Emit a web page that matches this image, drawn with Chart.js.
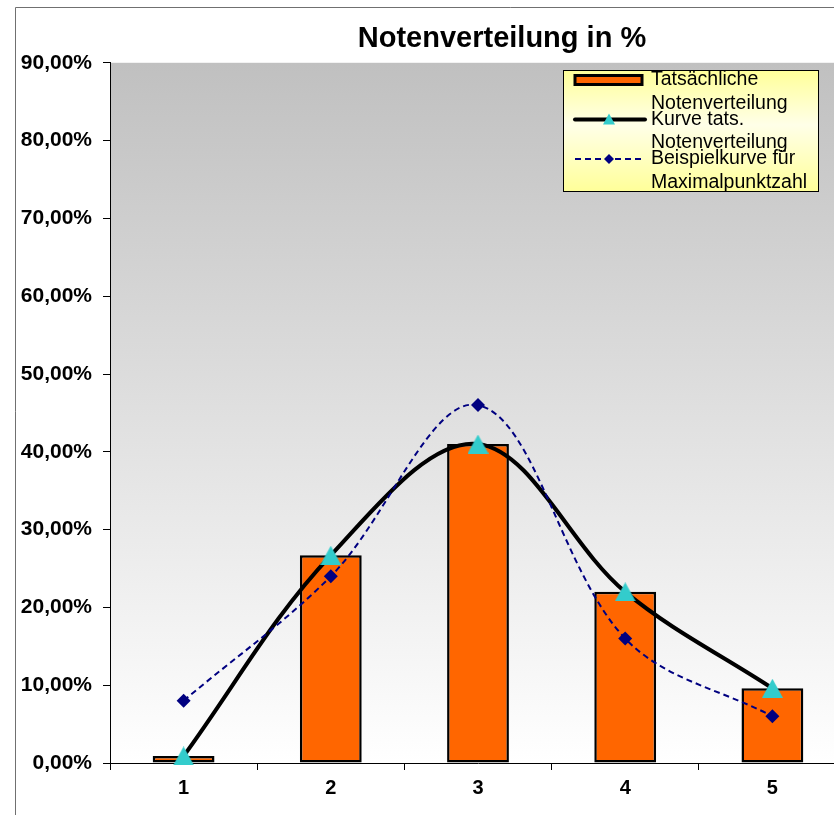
<!DOCTYPE html>
<html>
<head>
<meta charset="utf-8">
<script src="https://cdn.jsdelivr.net/npm/chart.js@4/dist/chart.umd.min.js"></script>
<style>
  html, body { margin: 0; padding: 0; overflow: hidden; background: #ffffff; }
  canvas { display: block; }
</style>
</head>
<body>
<canvas id="chart" width="1004" height="815"></canvas>
<script>
// Grades and share of students per grade (percent)
const grades = ['1', '2', '3', '4', '5'];
const actualShare = [0.9, 26.7, 41.0, 22.0, 9.6];
const exampleShare = [8, 24, 46, 16, 6];
const yTickLabels = ['0,00%', '10,00%', '20,00%', '30,00%', '40,00%', '50,00%', '60,00%', '70,00%', '80,00%', '90,00%'];
const titleText = 'Notenverteilung in %';
const legendLines = [
  ['Tatsächliche', 'Notenverteilung'],
  ['Kurve tats.', 'Notenverteilung'],
  ['Beispielkurve für', 'Maximalpunktzahl']
];

const FONT = "'Liberation Sans', Arial, Helvetica, sans-serif";
Chart.defaults.font.family = FONT;
Chart.defaults.color = '#000000';

// Cyan triangle marker, centred on its bounding box
function makeTriangle(w, h, color) {
  const c = document.createElement('canvas');
  c.width = w; c.height = h;
  const x = c.getContext('2d');
  x.fillStyle = color;
  x.beginPath();
  x.moveTo(w / 2, 0);
  x.lineTo(w, h);
  x.lineTo(0, h);
  x.closePath();
  x.fill();
  return c;
}
const triMarker = makeTriangle(21, 19, '#33cccc');

// Outer frame and grey-to-white plot background
const backdrop = {
  id: 'backdrop',
  beforeDraw(chart) {
    const { ctx, chartArea: a } = chart;
    ctx.save();
    ctx.fillStyle = '#ffffff';
    ctx.fillRect(0, 0, chart.width, chart.height);
    const g = ctx.createLinearGradient(0, a.top, 0, a.bottom);
    g.addColorStop(0, '#c0c0c0');
    g.addColorStop(1, '#ffffff');
    ctx.fillStyle = g;
    ctx.fillRect(a.left, a.top, a.right - a.left, a.bottom - a.top);
    ctx.strokeStyle = '#707070';
    ctx.lineWidth = 1;
    ctx.beginPath();
    ctx.moveTo(15.5, chart.height + 5);
    ctx.lineTo(15.5, 7.5);
    ctx.lineTo(chart.width + 5, 7.5);
    ctx.stroke();
    ctx.restore();
  }
};

// Boxed legend with two-line entries
const boxLegend = {
  id: 'boxLegend',
  afterDraw(chart) {
    const ctx = chart.ctx;
    const bx = 563.5, by = 70.5, bw = 255, bh = 121;
    ctx.save();
    const g = ctx.createLinearGradient(0, by, 0, by + bh);
    g.addColorStop(0, '#ffff99');
    g.addColorStop(0.45, '#ffffe8');
    g.addColorStop(1, '#ffff99');
    ctx.fillStyle = g;
    ctx.fillRect(bx, by, bw, bh);
    ctx.strokeStyle = '#000000';
    ctx.lineWidth = 1;
    ctx.strokeRect(bx, by, bw, bh);

    const ds = chart.data.datasets;
    ctx.font = '19.5px ' + FONT;
    ctx.textBaseline = 'middle';
    ctx.textAlign = 'left';
    legendLines.forEach((lines, i) => {
      const y0 = 80 + i * 39.5;
      ctx.fillStyle = '#000000';
      lines.forEach((t, j) => ctx.fillText(t, 651, y0 + j * 23.5));
      const d = ds[i];
      if (d.type === 'bar') {
        ctx.fillStyle = d.backgroundColor;
        ctx.fillRect(575, y0 - 4.5, 67, 9);
        ctx.strokeStyle = d.borderColor;
        ctx.lineWidth = 3;
        ctx.strokeRect(575, y0 - 4.5, 67, 9);
      } else {
        ctx.strokeStyle = d.borderColor;
        ctx.lineWidth = d.borderWidth;
        ctx.setLineDash(d.borderDash || []);
        ctx.lineCap = d.borderDash ? 'butt' : 'round';
        ctx.beginPath();
        ctx.moveTo(575, y0);
        ctx.lineTo(645, y0);
        ctx.stroke();
        ctx.setLineDash([]);
        ctx.fillStyle = d.pointBackgroundColor;
        ctx.beginPath();
        if (d.legendMarker === 'triangle') {
          ctx.moveTo(609, y0 - 6);
          ctx.lineTo(615, y0 + 5);
          ctx.lineTo(603, y0 + 5);
        } else {
          ctx.moveTo(609, y0 - 5);
          ctx.lineTo(614, y0);
          ctx.lineTo(609, y0 + 5);
          ctx.lineTo(604, y0);
        }
        ctx.closePath();
        ctx.fill();
      }
    });
    ctx.restore();
  }
};

new Chart(document.getElementById('chart'), {
  type: 'bar',
  data: {
    labels: grades,
    datasets: [
      {
        type: 'bar',
        label: legendLines[0].join(' '),
        data: actualShare,
        backgroundColor: '#ff6600',
        borderColor: '#000000',
        borderWidth: 2.5,
        borderSkipped: false,
        barPercentage: 0.42,
        categoryPercentage: 1.0,
        order: 3
      },
      {
        type: 'line',
        label: legendLines[1].join(' '),
        data: actualShare,
        borderColor: '#000000',
        borderWidth: 4,
        tension: 0.35,
        pointStyle: triMarker,
        pointBackgroundColor: '#33cccc',
        legendMarker: 'triangle',
        fill: false,
        clip: false,
        order: 2
      },
      {
        type: 'line',
        label: legendLines[2].join(' '),
        data: exampleShare,
        borderColor: '#000080',
        borderWidth: 2,
        borderDash: [6, 4],
        tension: 0.35,
        pointStyle: 'rectRot',
        pointRadius: 7,
        pointHoverRadius: 7,
        pointBackgroundColor: '#000080',
        pointBorderColor: '#000080',
        pointBorderWidth: 0,
        legendMarker: 'diamond',
        fill: false,
        clip: false,
        order: 1
      }
    ]
  },
  options: {
    responsive: false,
    devicePixelRatio: 1,
    animation: false,
    layout: { padding: { left: 0, right: 0, top: 0, bottom: 0 } },
    plugins: {
      legend: { display: false },
      tooltip: { enabled: false },
      title: {
        display: true,
        text: titleText,
        color: '#000000',
        font: { size: 29, weight: 'bold', family: FONT, lineHeight: 1.2 },
        padding: { top: 22, bottom: 6 }
      }
    },
    scales: {
      x: {
        position: 'bottom',
        offset: true,
        grid: { display: true, drawOnChartArea: false, drawTicks: true, tickLength: 7, color: '#000000', offset: true },
        border: { display: true, color: '#000000', width: 1 },
        ticks: { font: { size: 20, weight: 'bold' }, padding: 6, color: '#000000' },
        afterFit(s) { s.height = 52; }
      },
      y: {
        position: 'left',
        min: 0,
        max: 90,
        ticks: {
          stepSize: 10,
          padding: 11,
          font: { size: 21, weight: 'bold' },
          color: '#000000',
          callback: (v, i) => yTickLabels[i]
        },
        grid: { display: true, drawOnChartArea: false, drawTicks: true, tickLength: 7, color: '#000000' },
        border: { display: true, color: '#000000', width: 1 },
        afterFit(s) { s.width = 110; }
      },
      spacer: {
        position: 'right',
        display: true,
        grid: { display: false },
        border: { display: false },
        ticks: { display: false },
        afterFit(s) { s.width = 158; }
      }
    }
  },
  plugins: [backdrop, boxLegend]
});
</script>
</body>
</html>
